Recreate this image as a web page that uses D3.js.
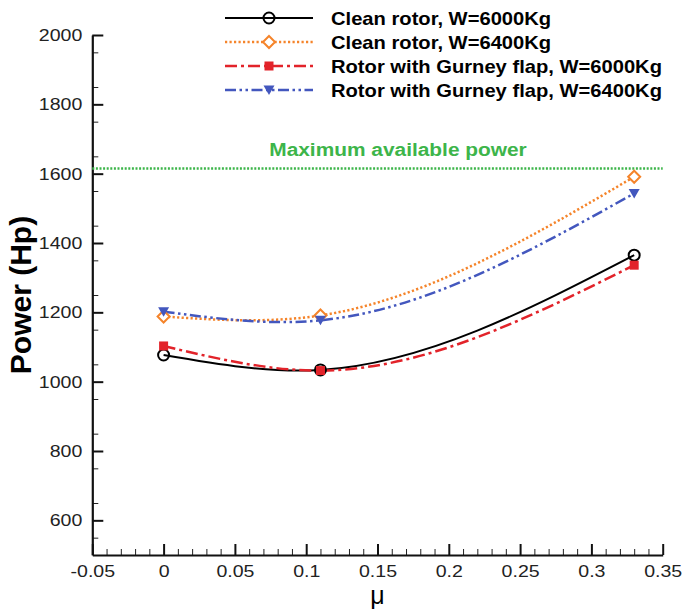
<!DOCTYPE html>
<html>
<head>
<meta charset="utf-8">
<script src="https://cdn.jsdelivr.net/npm/d3@7"></script>
<style>
  html, body { margin: 0; padding: 0; background: #fff; }
  svg { display: block; }
  text { font-family: "Liberation Sans", Arial, Helvetica, sans-serif; }
</style>
</head>
<body>
<svg id="chart" width="684" height="612"></svg>
<script>
// ---------------- data ----------------
const mu = [0, 0.11, 0.33];
const cleanW6000 = [1077, 1034, 1365];
const cleanW6400 = [1188, 1191, 1591];
const gurneyW6000 = [1103, 1032, 1336];
const gurneyW6400 = [1202, 1177, 1543];
const maxAvailablePower = 1615;

const seriesNames = [
  "Clean rotor, W=6000Kg",
  "Clean rotor, W=6400Kg",
  "Rotor with Gurney flap, W=6000Kg",
  "Rotor with Gurney flap, W=6400Kg"
];
const xTicks = [-0.05, 0, 0.05, 0.1, 0.15, 0.2, 0.25, 0.3, 0.35];
const xTickLabels = ["-0.05", "0", "0.05", "0.1", "0.15", "0.2", "0.25", "0.3", "0.35"];
const yTicks = [600, 800, 1000, 1200, 1400, 1600, 1800, 2000];
const yTickLabels = ["600", "800", "1000", "1200", "1400", "1600", "1800", "2000"];
const xTitle = "\u03BC";
const yTitle = "Power (Hp)";
const maxLabel = "Maximum available power";

// ---------------- styles ----------------
const styles = [
  { color: "#000000", width: 2,   dash: null,                 marker: "circle" },
  { color: "#F5842A", width: 2.5, dash: "2.2,2.3",            marker: "diamond" },
  { color: "#E2232A", width: 2.5, dash: "12,4,3,4",           marker: "square" },
  { color: "#4357BE", width: 2.5, dash: "11,3.5,2.5,3.5,2.5,3.5", marker: "triangle" }
];
const seriesValues = [cleanW6000, cleanW6400, gurneyW6000, gurneyW6400];

const svg = d3.select("#chart");
const x = d3.scaleLinear().domain([-0.05, 0.35]).range([92.3, 662.7]);
const y = d3.scaleLinear().domain([500, 2000]).range([555, 35]);

// natural cubic spline in x (function of x), drawn as bezier segments
function naturalX(context) {
  let xs, ys;
  return {
    lineStart() { xs = []; ys = []; },
    lineEnd() {
      const n = xs.length;
      if (!n) return;
      context.moveTo(xs[0], ys[0]);
      if (n === 2) { context.lineTo(xs[1], ys[1]); return; }
      const h = [], M = new Array(n).fill(0);
      for (let i = 0; i < n - 1; i++) h.push(xs[i + 1] - xs[i]);
      const m = n - 2, a = [], b = [], c = [], d = [];
      for (let i = 1; i <= m; i++) {
        a.push(h[i - 1]); b.push(2 * (h[i - 1] + h[i])); c.push(h[i]);
        d.push(6 * ((ys[i + 1] - ys[i]) / h[i] - (ys[i] - ys[i - 1]) / h[i - 1]));
      }
      for (let i = 1; i < m; i++) { const w = a[i] / b[i - 1]; b[i] -= w * c[i - 1]; d[i] -= w * d[i - 1]; }
      const sol = new Array(m);
      for (let i = m - 1; i >= 0; i--) sol[i] = (d[i] - (i < m - 1 ? c[i] * sol[i + 1] : 0)) / b[i];
      for (let i = 0; i < m; i++) M[i + 1] = sol[i];
      const s = [];
      for (let i = 0; i < n - 1; i++) s.push((ys[i + 1] - ys[i]) / h[i] - h[i] * (2 * M[i] + M[i + 1]) / 6);
      s.push((ys[n - 1] - ys[n - 2]) / h[n - 2] + h[n - 2] * (M[n - 2] + 2 * M[n - 1]) / 6);
      for (let i = 0; i < n - 1; i++) {
        const t = h[i] / 3;
        context.bezierCurveTo(xs[i] + t, ys[i] + t * s[i], xs[i + 1] - t, ys[i + 1] - t * s[i + 1], xs[i + 1], ys[i + 1]);
      }
    },
    point(px, py) { xs.push(+px); ys.push(+py); },
    areaStart() {}, areaEnd() {}
  };
}

function stretchText(g, px, py, str, size, weight, fill, anchor, sx) {
  return g.append("text")
    .attr("transform", `translate(${px},${py}) scale(${sx},1)`)
    .attr("font-size", size).attr("font-weight", weight)
    .attr("fill", fill).attr("text-anchor", anchor).text(str);
}

function drawMarker(g, type, cx, cy, color) {
  if (type === "circle") {
    g.append("circle").attr("cx", cx).attr("cy", cy).attr("r", 5.5)
      .attr("fill", "none").attr("stroke", color).attr("stroke-width", 2);
  } else if (type === "diamond") {
    const r = 6;
    g.append("path").attr("d", `M${cx},${cy - r}L${cx + r},${cy}L${cx},${cy + r}L${cx - r},${cy}Z`)
      .attr("fill", "#fff").attr("stroke", color).attr("stroke-width", 2);
  } else if (type === "square") {
    g.append("rect").attr("x", cx - 4.5).attr("y", cy - 4.5).attr("width", 9).attr("height", 9)
      .attr("fill", color);
  } else if (type === "triangle") {
    g.append("path").attr("d", `M${cx - 5.5},${cy - 4.5}L${cx + 5.5},${cy - 4.5}L${cx},${cy + 5}Z`)
      .attr("fill", color);
  }
}

// ---------------- axes ----------------
const minorX = d3.range(-5, 36, 1).map(v => v / 100).filter(v => !xTicks.some(t => Math.abs(t - v) < 1e-9));
const minorY = d3.range(550, 2000, 100);

svg.append("g").attr("transform", "translate(0,555)")
  .call(d3.axisBottom(x).tickValues(minorX).tickSizeInner(-6).tickSizeOuter(0).tickFormat(""))
  .call(g => g.select(".domain").remove())
  .call(g => g.selectAll("line").attr("stroke", "#222").attr("stroke-width", 1));
svg.append("g").attr("transform", "translate(92.3,0)")
  .call(d3.axisLeft(y).tickValues(minorY).tickSizeInner(-6).tickSizeOuter(0).tickFormat(""))
  .call(g => g.select(".domain").remove())
  .call(g => g.selectAll("line").attr("stroke", "#222").attr("stroke-width", 1));

const gx = svg.append("g").attr("transform", "translate(0,555)")
  .call(d3.axisBottom(x).tickValues(xTicks).tickFormat((d, i) => xTickLabels[i])
    .tickSizeInner(-11).tickSizeOuter(0).tickPadding(10));
gx.select(".domain").attr("stroke", "#111").attr("stroke-width", 2.2);
gx.selectAll(".tick line").attr("stroke", "#111").attr("stroke-width", 2);
gx.selectAll(".tick text").attr("font-size", 17).attr("fill", "#222")
  .attr("font-family", '"Liberation Sans", Arial, sans-serif')
  .attr("transform", "scale(1.15,1)");

const gy = svg.append("g").attr("transform", "translate(92.3,0)")
  .call(d3.axisLeft(y).tickValues(yTicks).tickFormat((d, i) => yTickLabels[i])
    .tickSizeInner(-11).tickSizeOuter(0).tickPadding(10));
gy.select(".domain").attr("stroke", "#111").attr("stroke-width", 2.2);
gy.selectAll(".tick line").attr("stroke", "#111").attr("stroke-width", 2);
gy.selectAll(".tick text").attr("font-size", 17).attr("fill", "#222")
  .attr("font-family", '"Liberation Sans", Arial, sans-serif')
  .attr("x", -10 / 1.15).attr("transform", "scale(1.15,1)");

// titles
svg.append("text").attr("transform", `translate(31,${(y(500) + y(2000)) / 2}) rotate(-90)`)
  .attr("text-anchor", "middle").attr("font-size", 30).attr("font-weight", "bold")
  .attr("fill", "#000").text(yTitle);
svg.append("text").attr("x", (x(-0.05) + x(0.35)) / 2).attr("y", 604)
  .attr("text-anchor", "middle").attr("font-size", 25).attr("fill", "#000").text(xTitle);

// ---------------- max power line ----------------
svg.append("line").attr("x1", x(-0.05)).attr("x2", x(0.35))
  .attr("y1", y(maxAvailablePower)).attr("y2", y(maxAvailablePower))
  .attr("stroke", "#3DB54A").attr("stroke-width", 2.5).attr("stroke-dasharray", "2,1.6");
stretchText(svg, 398, 156, maxLabel, 18, "bold", "#3DB54A", "middle", 1.16);

// ---------------- series ----------------
const line = d3.line().x(d => x(d[0])).y(d => y(d[1])).curve(naturalX);
seriesValues.forEach((vals, k) => {
  const st = styles[k];
  const pts = mu.map((m, i) => [m, vals[i]]);
  svg.append("path").datum(pts).attr("d", line)
    .attr("fill", "none").attr("stroke", st.color).attr("stroke-width", st.width)
    .attr("stroke-dasharray", st.dash);
});
seriesValues.forEach((vals, k) => {
  const st = styles[k];
  const g = svg.append("g");
  mu.forEach((m, i) => drawMarker(g, st.marker, x(m), y(vals[i]), st.color));
});

// ---------------- legend ----------------
const legendRows = [18, 42, 66, 90];
seriesNames.forEach((name, k) => {
  const st = styles[k];
  const g = svg.append("g");
  const ry = legendRows[k];
  g.append("line").attr("x1", 225).attr("x2", 313).attr("y1", ry).attr("y2", ry)
    .attr("stroke", st.color).attr("stroke-width", st.width).attr("stroke-dasharray", st.dash);
  drawMarker(g, st.marker, 269, ry, st.color);
  stretchText(g, 331, ry + 6.5, name, 18, "bold", "#000", "start", 1.12);
});
</script>
</body>
</html>
